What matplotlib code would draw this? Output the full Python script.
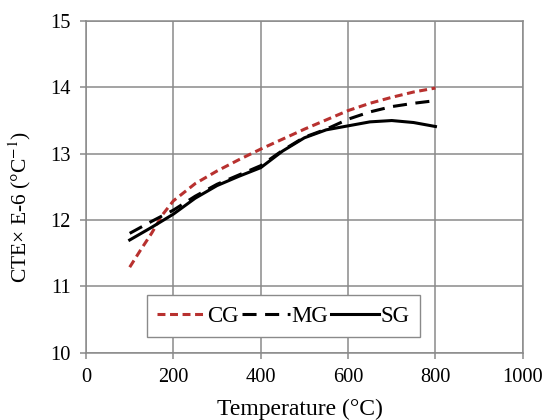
import numpy as np
import matplotlib
matplotlib.use("Agg")
import matplotlib.pyplot as plt

# values
temp_cg = [100, 125, 150, 175, 200, 250, 300, 350, 400, 450, 500, 550, 600, 650, 700, 750, 800]
cte_cg = [11.29, 11.55, 11.80, 12.08, 12.29, 12.55, 12.74, 12.91, 13.07, 13.22, 13.37, 13.51, 13.65, 13.76, 13.85, 13.93, 13.99]

temp_mg = [100, 150, 200, 250, 300, 350, 400, 450, 500, 550, 600, 650, 700, 750, 800]
cte_mg = [11.80, 11.98, 12.15, 12.36, 12.54, 12.68, 12.82, 13.05, 13.25, 13.37, 13.52, 13.63, 13.71, 13.76, 13.80]

temp_sg = [100, 150, 200, 250, 300, 350, 400, 450, 500, 550, 600, 650, 700, 750, 800]
cte_sg = [11.70, 11.89, 12.09, 12.33, 12.52, 12.66, 12.79, 13.04, 13.24, 13.36, 13.42, 13.48, 13.50, 13.47, 13.41]

x_ticks = [0, 200, 400, 600, 800, 1000]
y_ticks = [10, 11, 12, 13, 14, 15]

plt.rcParams['font.family'] = ['Liberation Serif', 'DejaVu Serif']
plt.rcParams['mathtext.fontset'] = 'stix'

fig = plt.figure(figsize=(5.48, 4.20), dpi=100)
ax = fig.add_axes([0.157, 0.160, 0.797, 0.790])

ax.plot(temp_cg, cte_cg, color='#b8312f', lw=2.2, ls=(0, (2.6, 1.5)), label='CG')
ax.plot(temp_mg, cte_mg, color='black', lw=2.2, ls=(0, (4.6, 2.8)), label='MG')
ax.plot(temp_sg, cte_sg, color='black', lw=2.2, label='SG')

ax.set_xlim(0, 1000)
ax.set_ylim(10, 15)
ax.set_xticks(x_ticks)
ax.set_yticks(y_ticks)
ax.grid(True, color='#8a8a8a', lw=1.1)
ax.set_axisbelow(True)
for s in ax.spines.values():
    s.set_color('#8a8a8a')
    s.set_linewidth(1.1)
ax.tick_params(direction='out', length=4, width=1.1, color='#8a8a8a',
               labelsize=14.7, pad=7)

ax.set_xlabel('Temperature (°C)', fontsize=17)
ax.xaxis.set_label_coords(0.49, -0.138)
ax.set_ylabel('CTE× E-6 (°C$^{-1}$)', fontsize=15.5)
ax.yaxis.set_label_coords(-0.122, 0.44)

leg = ax.legend(loc='lower left', bbox_to_anchor=(0.14, 0.048), ncol=3,
                fontsize=16.5, handlelength=2.1, handletextpad=0.05,
                columnspacing=0.15, fancybox=False, framealpha=1,
                borderpad=0.45, borderaxespad=0)
leg.get_frame().set_edgecolor('#8a8a8a')
leg.get_frame().set_linewidth(1.0)

fig.savefig('out.png', dpi=100)
